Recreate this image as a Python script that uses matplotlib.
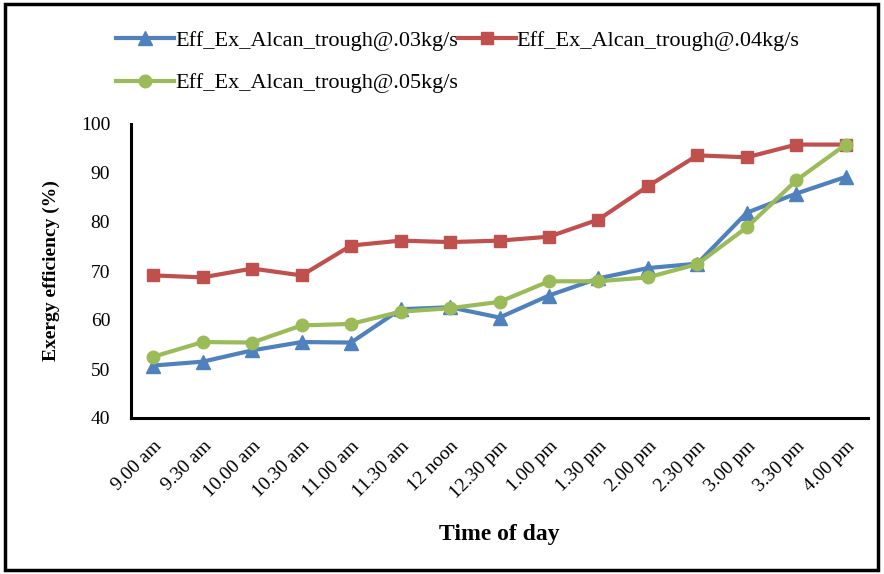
import matplotlib
matplotlib.use("Agg")
import matplotlib.pyplot as plt
from matplotlib.patches import Rectangle

plt.rcParams['font.family'] = ['Liberation Serif', 'DejaVu Serif']

times = ["9.00 am", "9.30 am", "10.00 am", "10.30 am", "11.00 am", "11.30 am",
         "12 noon", "12.30 pm", "1.00 pm", "1.30 pm", "2.00 pm", "2.30 pm",
         "3.00 pm", "3.30 pm", "4.00 pm"]

eff_03 = [50.7, 51.5, 53.8, 55.5, 55.4, 62.2, 62.6, 60.5, 65.0, 68.5, 70.6, 71.5, 81.9, 85.8, 89.2]
eff_04 = [69.1, 68.7, 70.5, 69.1, 75.2, 76.2, 75.9, 76.2, 77.0, 80.5, 87.3, 93.6, 93.2, 95.8, 95.8]
eff_05 = [52.5, 55.5, 55.4, 58.9, 59.2, 61.7, 62.4, 63.7, 67.9, 67.9, 68.7, 71.4, 78.9, 88.5, 95.8]

labels = ["Eff_Ex_Alcan_trough@.03kg/s",
          "Eff_Ex_Alcan_trough@.04kg/s",
          "Eff_Ex_Alcan_trough@.05kg/s"]

fig = plt.figure(figsize=(8.84, 5.74), dpi=100)
ax = fig.add_axes([131 / 884, 1 - 418 / 574, (868 - 131) / 884, (418 - 124) / 574])

x = list(range(len(times)))
l1, = ax.plot(x, eff_03, color='#4F81BD', marker='^', markersize=10, linewidth=3, label=labels[0])
l2, = ax.plot(x, eff_04, color='#C0504D', marker='s', markersize=9, linewidth=3, label=labels[1])
l3, = ax.plot(x, eff_05, color='#9BBB59', marker='o', markersize=9, linewidth=3, label=labels[2])

ax.set_ylim(40, 100)
ax.set_yticks(range(40, 101, 10))
ax.set_xlim(-0.45, len(times) - 0.55)
ax.set_xticks(x)
ax.set_xticklabels(times, rotation=45, ha='right', rotation_mode='anchor', fontsize=14)
ax.tick_params(axis='y', labelsize=14, length=0, pad=15)
ax.tick_params(axis='x', length=0, pad=14)

for side in ['top', 'right']:
    ax.spines[side].set_visible(False)
for side in ['left', 'bottom']:
    ax.spines[side].set_linewidth(2.2)
    ax.spines[side].set_color('black')

ax.set_ylabel("Exergy efficiency (%)", fontsize=14, fontweight='bold', labelpad=15)
ax.set_xlabel("Time of day", fontsize=17, fontweight='bold', labelpad=16)

# legend filled column-wise: first row .03 / .04, second row .05
fig.legend(handles=[l1, l3, l2], loc='upper left', bbox_to_anchor=(116 / 884, 1 - 30 / 574),
           ncol=2, frameon=False, fontsize=16, handlelength=2.6, handletextpad=0.05,
           columnspacing=0.0, labelspacing=1.0, borderaxespad=0, borderpad=0)

fig.patches.append(Rectangle((5 / 884, 4 / 574), 873 / 884, 566 / 574, transform=fig.transFigure,
                             fill=False, edgecolor='black', linewidth=2.5))

fig.savefig("out.png", dpi=100)
